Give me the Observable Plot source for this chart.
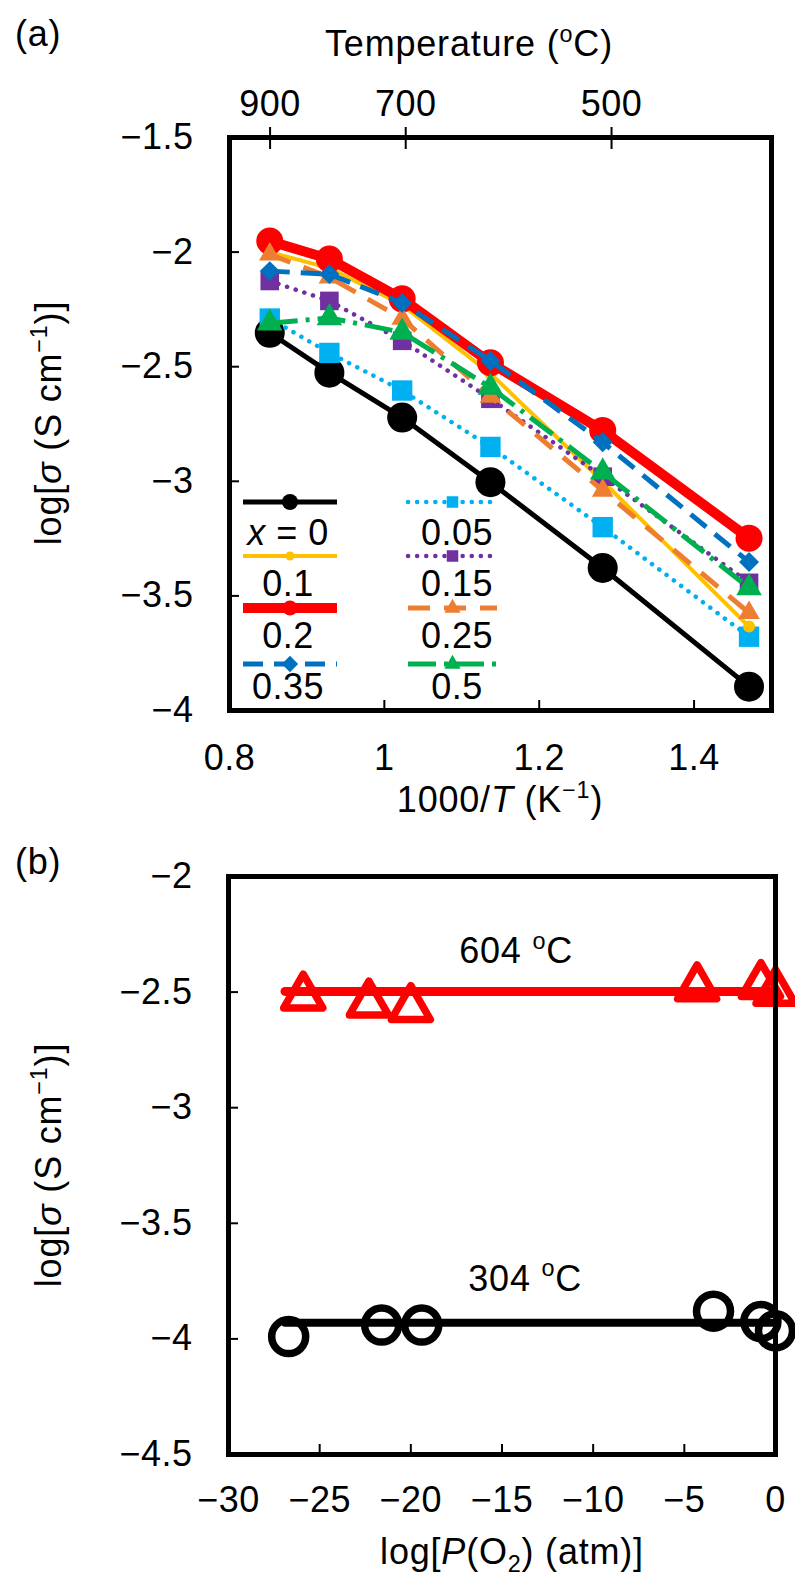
<!DOCTYPE html>
<html><head><meta charset="utf-8">
<script src="https://cdn.jsdelivr.net/npm/d3@7"></script>
<script src="https://cdn.jsdelivr.net/npm/@observablehq/plot@0.6"></script>
<style>
body{margin:0;background:#fff;}
#root{position:relative;width:795px;height:1581px;background:#fff;overflow:hidden;}
#root svg{position:absolute;left:0;}
</style></head><body><div id="root"></div>
<script>
// ---------- DATA ----------
// Panel (a): 1000/T (K^-1) and log sigma for each composition x
const invT = [0.852, 0.929, 1.023, 1.137, 1.282, 1.471];
const compositions = ["0", "0.05", "0.1", "0.15", "0.2", "0.25", "0.35", "0.5"];
const sig_x0    = [-2.352, -2.526, -2.722, -3.004, -3.378, -3.896];
const sig_x005  = [-2.29, -2.44, -2.604, -2.85, -3.20, -3.678];
const sig_x01   = [-2.00, -2.07, -2.23, -2.53, -3.00, -3.634];
const sig_x015  = [-2.126, -2.213, -2.387, -2.64, -2.98, -3.443];
const sig_x02   = [-1.952, -2.03, -2.204, -2.483, -2.778, -3.248];
const sig_x025  = [-2.01, -2.11, -2.29, -2.63, -3.04, -3.574];
const sig_x035  = [-2.083, -2.096, -2.222, -2.474, -2.83, -3.352];
const sig_x05   = [-2.31, -2.287, -2.35, -2.59, -2.96, -3.465];
const tempTicksC = [900, 700, 500];
const xTicksA = [0.8, 1, 1.2, 1.4];
const yTicksA = [-1.5, -2, -2.5, -3, -3.5, -4];

// Panel (b): log P(O2) and log sigma
const logP_604 = [-25.9, -22.3, -20.0, -4.3, -0.8, 0.0];
const sig_604  = [-2.52, -2.55, -2.57, -2.48, -2.47, -2.50];
const logP_304 = [-26.7, -21.6, -19.4, -3.4, -0.8, 0.0];
const sig_304  = [-3.99, -3.94, -3.94, -3.88, -3.925, -3.965];
const fitLogP  = [-26.9, 0];
const fit_604  = [-2.497, -2.497];
const fit_304  = [-3.93, -3.93];
const annotTemps = ["604", "304"];
const annotLogP  = [-14.2, -13.7];
const annotSig   = [-2.324, -3.739];
const xTicksB = [-30, -25, -20, -15, -10, -5, 0];
const yTicksB = [-2, -2.5, -3, -3.5, -4, -4.5];

// ---------- STYLE ----------
const FONT = '"Liberation Sans", Arial, Helvetica, sans-serif';
const FS = 36;
const seriesA = [sig_x0, sig_x005, sig_x01, sig_x015, sig_x02, sig_x025, sig_x035, sig_x05];
const styles = {
  "0":    {color: "#000000", width: 5,  symbol: "circle",   r: 15,  lr: 8},
  "0.05": {color: "#00B0F0", width: 4.5, dash: "0.1 9", cap: "round", symbol: "square", r: 11.5, lr: 6.5},
  "0.1":  {color: "#FFC000", width: 4,  symbol: "circle",   r: 6,   lr: 4.5},
  "0.15": {color: "#7030A0", width: 4.5, dash: "0.1 9", cap: "round", symbol: "square", r: 10.5, lr: 6.5},
  "0.2":  {color: "#FF0000", width: 10, symbol: "circle",   r: 13.5, lr: 7.5},
  "0.25": {color: "#ED7D31", width: 5,  dash: "22 14", symbol: "triangle", r: 8, lr: 6},
  "0.35": {color: "#0070C0", width: 5,  dash: "20 11", symbol: "diamond2", r: 9, lr: 6.5},
  "0.5":  {color: "#00B050", width: 5,  dash: "28 8 4 8", symbol: "triangle", r: 9.5, lr: 6}
};
const fmt = d => (d < 0 ? "\u2212" : "") + String(Math.abs(d));
const plotStyle = {fontFamily: FONT, fontSize: FS + "px", color: "#000", background: "transparent",
  overflow: "visible", letterSpacing: "0.5px"};

// ---------- PANEL A ----------
const seriesMarks = compositions.flatMap((c, i) => {
  const s = styles[c];
  const rows = invT.map((x, j) => ({x, y: seriesA[i][j]}));
  return [
    Plot.line(rows, {x: "x", y: "y", stroke: s.color, strokeWidth: s.width,
      strokeDasharray: s.dash, strokeLinecap: s.cap || "butt", strokeLinejoin: "round"}),
    Plot.dot(rows, {x: "x", y: "y", r: s.r, symbol: s.symbol, fill: s.color, stroke: "none"})
  ];
});
const tempPos = tempTicksC.map(t => 1000 / (t + 273.15));

const plotA = Plot.plot({
  width: 795, height: 800,
  marginTop: 137, marginBottom: 90, marginLeft: 229, marginRight: 24,
  style: plotStyle,
  x: {domain: [0.8, 1.5]},
  y: {domain: [-4, -1.5]},
  marks: [
    ...seriesMarks,
    Plot.axisY(yTicksA, {anchor: "left", tickSize: -10, tickPadding: 46, strokeWidth: 2, tickFormat: fmt, label: null}),
    Plot.axisX(xTicksA, {anchor: "bottom", tickSize: -10, tickPadding: 44, strokeWidth: 2, tickFormat: fmt, label: null}),
    Plot.axisX(tempPos, {anchor: "top", tickSize: 11, tickPadding: 11, strokeWidth: 2,
      tickFormat: d => String(Math.round(1000 / d - 273.15)), label: null}),
    Plot.axisX(tempPos, {anchor: "top", tickSize: -11, strokeWidth: 2, tickFormat: () => "", label: null}),
    Plot.frame({stroke: "#000", strokeWidth: 5})
  ]
});
plotA.style.top = "0px";

// ---------- PANEL B ----------
const rows604 = logP_604.map((x, i) => ({x, y: sig_604[i]}));
const rows304 = logP_304.map((x, i) => ({x, y: sig_304[i]}));
const fitRows604 = fitLogP.map((x, i) => ({x, y: fit_604[i]}));
const fitRows304 = fitLogP.map((x, i) => ({x, y: fit_304[i]}));

const plotB = Plot.plot({
  width: 795, height: 781,
  marginTop: 76, marginBottom: 127, marginLeft: 228, marginRight: 20,
  style: plotStyle,
  x: {domain: [-30, 0]},
  y: {domain: [-4.5, -2]},
  marks: [
    Plot.line(fitRows604, {x: "x", y: "y", stroke: "#FF0000", strokeWidth: 9}),
    Plot.dot(rows604, {x: "x", y: "y", symbol: "triangle", r: 14.5, stroke: "#FF0000", strokeWidth: 7.5, fill: "none", strokeLinejoin: "round"}),
    Plot.line(fitRows304, {x: "x", y: "y", stroke: "#000", strokeWidth: 8}),
    Plot.dot(rows304, {x: "x", y: "y", symbol: "circle", r: 17, stroke: "#000", strokeWidth: 7.5, fill: "none"}),
    Plot.axisY(yTicksB, {anchor: "left", tickSize: -10, tickPadding: 46, strokeWidth: 2, tickFormat: fmt, label: null}),
    Plot.axisX(xTicksB, {anchor: "bottom", tickSize: -10, tickPadding: 42, strokeWidth: 2, tickFormat: fmt, label: null}),
    Plot.frame({stroke: "#000", strokeWidth: 5})
  ]
});
plotB.style.top = "800px";

const root = document.getElementById("root");
root.appendChild(plotA);
root.appendChild(plotB);

// ---------- rich text helper ----------
function richText(svg, {x, y, anchor = "middle", rotate = 0, size = FS, ls = 0.8}, parts) {
  const t = d3.select(svg).append("text")
    .attr("text-anchor", anchor).attr("font-size", size).attr("fill", "#000")
    .attr("font-family", FONT).attr("letter-spacing", ls)
    .attr("transform", `translate(${x},${y}) rotate(${rotate})`);
  let shift = 0;
  for (const p of parts) {
    const o = typeof p === "string" ? {t: p} : p;
    const target = o.sup ? -0.4 * size : o.sub ? 0.22 * size : 0;
    const ts = t.append("tspan").text(o.t).attr("dy", target - shift);
    shift = target;
    if (o.sup || o.sub) ts.attr("font-size", size * 0.65);
    if (o.it) ts.attr("font-style", "italic");
  }
  return t;
}

// Panel A texts
richText(plotA, {x: 15, y: 46, anchor: "start"}, ["(a)"]);
richText(plotA, {x: 469, y: 56}, ["Temperature (", {t: "o", sup: true}, "C)"]);
richText(plotA, {x: 500, y: 812}, ["1000/", {t: "T", it: true}, " (K", {t: "\u22121", sup: true}, ")"]);
richText(plotA, {x: 61, y: 423, rotate: -90}, ["log[", {t: "\u03c3", it: true}, " (S cm", {t: "\u22121", sup: true}, ")]"]);

// Legend (panel A)
const leg = d3.select(plotA).append("g");
const legCols = [
  {x1: 243, x2: 337, tx: 288, items: ["0", "0.1", "0.2", "0.35"]},
  {x1: 408, x2: 497, tx: 457, items: ["0.05", "0.15", "0.25", "0.5"]}
];
const legLineY = [502, 556, 608, 664];
const legTextY = [545, 596, 648, 699];
const symMap = {circle: d3.symbolCircle, square: d3.symbolSquare, triangle: d3.symbolTriangle, diamond2: d3.symbolSquare};
legCols.forEach(col => {
  col.items.forEach((c, k) => {
    const s = styles[c];
    const y = legLineY[k];
    leg.append("line").attr("x1", col.x1).attr("x2", col.x2).attr("y1", y).attr("y2", y)
      .attr("stroke", s.color).attr("stroke-width", s.width)
      .attr("stroke-dasharray", s.dash || null).attr("stroke-linecap", s.cap || "butt");
    const cx = (col.x1 + col.x2) / 2;
    leg.append("path")
      .attr("d", d3.symbol(symMap[s.symbol], Math.PI * s.lr * s.lr)())
      .attr("transform", `translate(${cx},${y})` + (s.symbol === "diamond2" ? " rotate(45)" : ""))
      .attr("fill", s.color);
    if (c === "0") {
      richText(plotA, {x: col.tx, y: legTextY[k], ls: 0.5}, [{t: "x", it: true}, " = 0"]);
    } else {
      richText(plotA, {x: col.tx, y: legTextY[k], ls: 0.5}, [c]);
    }
  });
});

// Panel B texts
const xs = plotB.scale("x"), ys = plotB.scale("y");
richText(plotB, {x: 15, y: 74, anchor: "start"}, ["(b)"]);
annotTemps.forEach((t, i) => {
  richText(plotB, {x: xs.apply(annotLogP[i]), y: ys.apply(annotSig[i]) + 12.5}, [t + " ", {t: "o", sup: true}, "C"]);
});
richText(plotB, {x: 512, y: 764}, ["log[", {t: "P", it: true}, "(O", {t: "2", sub: true}, ") (atm)]"]);
richText(plotB, {x: 61, y: 365, rotate: -90}, ["log[", {t: "\u03c3", it: true}, " (S cm", {t: "\u22121", sup: true}, ")]"]);
</script>
</body></html>
